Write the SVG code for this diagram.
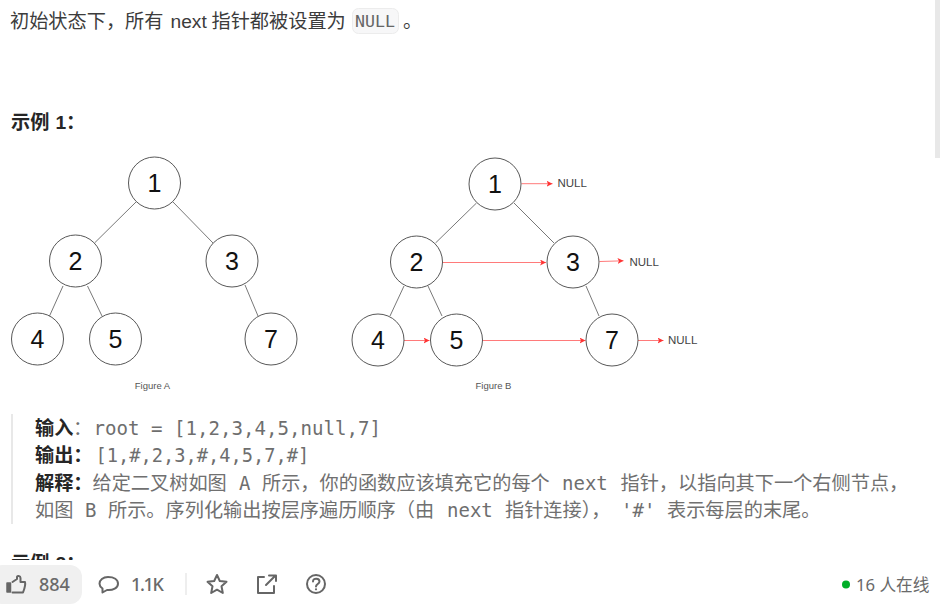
<svg xmlns="http://www.w3.org/2000/svg" width="940" height="606" viewBox="0 0 940 606">
<style>
.cjk{font-family:"Noto Sans CJK SC","Noto Sans",sans-serif;font-size:19.2px}
.t{fill:#3c3c3c}
.g{fill:#707070}
.b{font-weight:700;fill:#262626}
.m{font-family:"DejaVu Sans Mono","Noto Sans CJK SC",monospace;font-size:19px;fill:#6e6e6e}
.n circle{fill:#fff;stroke:#444;stroke-width:.9}
.n text{font-family:"Liberation Sans",Arial,sans-serif;font-size:25px;fill:#111;text-anchor:middle}
.e{stroke:#555;stroke-width:.8;fill:none}
.r{stroke:#ff7a7a;stroke-width:1;fill:none;marker-end:url(#ah)}
.lab{font-family:"Liberation Sans",Arial,sans-serif;font-size:11.500px;fill:#444}
.cap{font-family:"Liberation Sans",Arial,sans-serif;font-size:9.500px;fill:#555;text-anchor:middle}
.ui{fill:none;stroke:#666;stroke-width:2;stroke-linejoin:round;stroke-linecap:round}
.s{font-family:"Noto Sans","Noto Sans CJK SC",sans-serif;font-size:18px;fill:#6a6a6a;font-weight:500}
</style>
<defs><marker id="ah" markerUnits="userSpaceOnUse" markerWidth="7" markerHeight="6" refX="6" refY="3" orient="auto"><path d="M0 0L6 3L0 6L1.500 3Z" fill="#ff3333"/></marker></defs>
<rect width="940" height="606" fill="#fff"/>
<rect x="935" y="0" width="5" height="158" fill="#e8e8e8"/>
<g id="intro">
<rect x="352.500" y="8.500" width="46" height="25" rx="6" fill="#f7f7f8" stroke="#ececec"/>
<text class="cjk t" y="28"><tspan x="10">初始状态下，所有</tspan><tspan x="170.500" font-family="Liberation Sans">next</tspan><tspan x="211.500">指针都被设置为</tspan><tspan x="403">。</tspan></text>
<text x="355" y="27" font-family="DejaVu Sans Mono,monospace" font-size="16.600" fill="#666">NULL</text>
<text class="cjk b" y="129"><tspan x="11">示例</tspan><tspan x="55.500" font-family="Liberation Sans">1</tspan><tspan x="66">：</tspan></text>
</g>
<g id="connectors">
<path class="e" d="M136 202L94.500 243M173 202L213 243M63 286L49.500 316M87.500 286L102 316M245 285L258 316"/>
<path class="e" d="M476.500 203L435.500 243M514 203L554 243M404 286L390 316M428 286L442 316M586 286L599 316"/>
<path class="r" d="M521.500 183.700H552.500"/>
<path class="r" d="M442.500 262.500H546"/>
<path class="r" d="M599.500 261.500L623.500 260.800"/>
<path class="r" d="M404 340.500H429.500"/>
<path class="r" d="M482 340.500H585.500"/>
<path class="r" d="M638 340.500H663.500"/>
</g>
<g id="a1" class="n"><circle cx="154.500" cy="183" r="26"/><text x="154.500" y="192">1</text></g>
<g id="a2" class="n"><circle cx="75.500" cy="261" r="26"/><text x="75.500" y="270">2</text></g>
<g id="a3" class="n"><circle cx="232" cy="261" r="26"/><text x="232" y="270">3</text></g>
<g id="a4" class="n"><circle cx="37.500" cy="339" r="26"/><text x="37.500" y="348">4</text></g>
<g id="a5" class="n"><circle cx="115.500" cy="339" r="26"/><text x="115.500" y="348">5</text></g>
<g id="a7" class="n"><circle cx="271" cy="339" r="26"/><text x="271" y="348">7</text></g>
<text class="cap" x="152.500" y="388.500">Figure A</text>
<g id="b1" class="n"><circle cx="495" cy="184" r="26"/><text x="495" y="193">1</text></g>
<g id="b2" class="n"><circle cx="416.500" cy="262" r="26"/><text x="416.500" y="271">2</text></g>
<g id="b3" class="n"><circle cx="573" cy="262" r="26"/><text x="573" y="271">3</text></g>
<g id="b4" class="n"><circle cx="378" cy="340" r="26"/><text x="378" y="349">4</text></g>
<g id="b5" class="n"><circle cx="456.500" cy="340" r="26"/><text x="456.500" y="349">5</text></g>
<g id="b7" class="n"><circle cx="612" cy="340" r="26"/><text x="612" y="349">7</text></g>
<text class="lab" x="557.500" y="187">NULL</text>
<text class="lab" x="629.500" y="265.500">NULL</text>
<text class="lab" x="668" y="344">NULL</text>
<text class="cap" x="493.500" y="388.500">Figure B</text>
<g id="explain">
<rect x="11" y="414" width="2" height="110" fill="#e8e8e8"/>
<text class="cjk b" x="35" y="434.500">输入</text><text class="cjk g" x="73" y="434.500">：</text>
<text class="m" x="93.500" y="434.500" style="font-size:19.100px">root = [1,2,3,4,5,null,7]</text>
<text class="cjk b" x="35" y="462">输出：</text>
<text class="m" x="95.500" y="462" style="font-size:18.700px">[1,#,2,3,#,4,5,7,#]</text>
<text class="cjk b" x="35" y="489.500">解释：</text>
<text class="cjk g" y="489.500"><tspan x="92.500">给定二叉树如图</tspan><tspan x="262">所示，你的函数应该填充它的每个</tspan><tspan x="620.500">指针，以指向其下一个右侧节点，</tspan></text>
<text class="m" x="239" y="489.500">A</text><text class="m" x="562" y="489.500">next</text>
<text class="cjk g" y="517"><tspan x="35">如图</tspan><tspan x="108">所示。序列化输出按层序遍历顺序（由</tspan><tspan x="505">指针连接），</tspan><tspan x="667">表示每层的末尾。</tspan></text>
<text class="m" x="85" y="517">B</text><text class="m" x="447" y="517">next</text><text class="m" x="621" y="517">'#'</text>
<text class="cjk b" y="570"><tspan x="11">示例</tspan><tspan x="55.500" font-family="Liberation Sans">2</tspan><tspan x="66">：</tspan></text>
</g>
<g id="toolbar">
<rect x="0" y="560" width="940" height="46" fill="#fff"/>
<rect x="-10" y="565" width="92" height="39" rx="12" fill="#f0f0f0"/>
<path d="M7 583H10.500V592H7Z" fill="#666" stroke="#666" stroke-width="1.500" stroke-linejoin="round"/>
<path class="ui" d="M12.500 582L17 579V577C17 575.500 20.500 575.500 20.500 578V582H25C25.500 584 24 590 23 592.500H12.500"/>
<text class="s" x="39" y="591">884</text>
<path class="ui" d="M108 577C114 577 118 579.500 118 583.700C118 588 113 590.500 107 590L102.500 592.500V588.500C100.500 587 99.500 585.500 99.500 583.700C99.500 580 103 577 108 577Z"/>
<text class="s" x="131" y="591" style="letter-spacing:-1.300px">1.1K</text>
<rect x="185" y="573" width="2" height="22" fill="#eee"/>
<path class="ui" d="M217 575L219.800 581L226.500 581.800L221.500 586.300L222.800 593L217 589.700L211.200 593L212.500 586.300L207.500 581.800L214.200 581Z"/>
<path class="ui" d="M264 577H258V593H274V586M266 585L275 576M269 575.500H276V581"/>
<circle class="ui" cx="316" cy="584" r="9"/>
<path class="ui" d="M313 581.500C313 577.500 319.500 578 319.500 581.500C319.500 584 316 584 316 586.500" stroke-width="1.800"/>
<circle cx="316" cy="589.300" r="1.100" fill="#666"/>
<circle cx="846" cy="584.500" r="4" fill="#00af28"/>
<text class="s" x="856" y="591" style="font-size:16.700px;font-weight:400">16 人在线</text>
</g>
</svg>
